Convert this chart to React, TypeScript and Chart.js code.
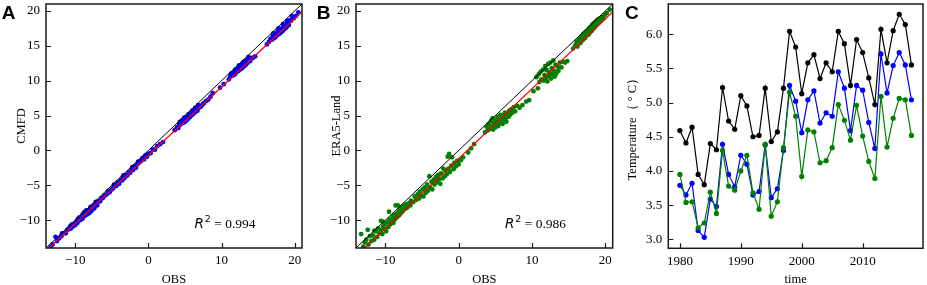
import React, { useEffect, useRef } from "react";
import { Chart, registerables } from "chart.js";

Chart.register(...registerables);

const SERIF = "'Liberation Serif', 'Times New Roman', serif";
const SANS = "'DejaVu Sans', sans-serif";

// ---------- Panels A / B ----------
const SCATTER_MIN = -14;
const SCATTER_MAX = 21;
const SCATTER_X_TICKS = [-10, 0, 10, 20];
const SCATTER_Y_TICKS = [-10, -5, 0, 5, 10, 15, 20];
const IDENTITY_LINE: [number, number][] = [[-14, -14], [21, 21]];
const CMFD_FIT: [number, number][] = [[-14, -14.42], [21, 19.88]];
const ERA5_FIT: [number, number][] = [[-14, -15.2], [21, 19.85]];
const CMFD_R2 = "0.994";
const ERA5_R2 = "0.986";

const CMFD_POINTS: [number, number][] = [
  [-13.4, -13.9], [-13.1, -13.5], [-12.7, -12.4], [-12.5, -13.0], [-12.2, -12.6], [-11.9, -12.3],
  [-11.6, -11.9], [-11.3, -11.9], [-11.1, -11.4], [-10.9, -11.3], [-10.7, -10.9], [-10.6, -11.2],
  [-10.4, -10.6], [-10.3, -10.9], [-10.1, -10.5], [-10.0, -10.7], [-9.8, -10.1], [-9.7, -10.4],
  [-9.5, -9.9], [-9.4, -9.6], [-9.3, -10.0], [-9.1, -9.5], [-9.0, -9.8], [-8.9, -9.3],
  [-8.8, -8.9], [-8.7, -9.4], [-8.6, -9.1], [-8.5, -8.7], [-8.4, -9.2], [-8.3, -8.9],
  [-8.2, -8.6], [-8.1, -9.0], [-8.0, -8.5], [-7.9, -8.4], [-7.8, -8.7], [-7.7, -8.2],
  [-7.6, -8.4], [-7.5, -7.9], [-7.4, -8.3], [-7.3, -7.9], [-7.1, -7.7], [-7.0, -7.9],
  [-6.8, -7.3], [-6.6, -7.3], [-6.4, -6.9], [-6.2, -6.8], [-6.0, -6.5],
  [-11.8, -11.9], [-10.5, -10.7], [-9.6, -9.8], [-9.0, -9.2], [-8.5, -8.6], [-7.9, -8.1], [-7.2, -7.4],
  [-5.7, -6.3], [-5.5, -5.8], [-5.3, -6.0], [-5.0, -5.6], [-4.8, -5.4], [-4.6, -5.0],
  [-4.4, -5.1], [-4.2, -4.6], [-4.0, -4.8], [-3.8, -4.3], [-3.6, -4.3], [-3.5, -3.8],
  [-3.3, -4.0], [-3.1, -3.6], [-2.9, -3.6], [-2.7, -3.2], [-2.5, -3.2], [-2.3, -2.8],
  [-2.1, -2.8], [-1.9, -2.3], [-1.7, -2.5], [-1.5, -2.0], [-1.2, -1.7], [-1.0, -1.5],
  [-0.8, -1.1], [-0.6, -1.3], [-0.4, -0.7], [-0.2, -0.9], [0.0, -0.5], [0.3, -0.4],
  [0.6, 0.1], [0.9, 0.1], [1.2, 0.6], [1.6, 0.9], [2.0, 1.2],
  [-4.7, -4.9], [-3.4, -3.6], [-2.2, -2.4], [-1.4, -1.6],
  [3.6, 2.9], [3.9, 3.3], [4.1, 3.2], [4.2, 3.8], [4.4, 3.7], [4.5, 3.9], [4.6, 4.3],
  [4.7, 3.9], [4.8, 4.2], [4.9, 4.5], [5.0, 4.1], [5.1, 4.6], [5.2, 4.3], [5.3, 4.8],
  [5.4, 4.5], [5.5, 4.7], [5.6, 5.1], [5.7, 4.8], [5.8, 5.0], [5.9, 5.4], [6.0, 5.1],
  [6.1, 5.3], [6.2, 5.6], [6.3, 5.4], [6.5, 5.6], [6.6, 5.9], [6.7, 5.7], [6.9, 6.1],
  [7.0, 6.3], [7.2, 6.3], [7.4, 6.6], [7.6, 6.8], [7.9, 7.1], [8.2, 7.3], [8.5, 7.7],
  [8.8, 8.2], [9.8, 9.0], [10.3, 9.5],
  [4.3, 4.1], [4.9, 4.7], [5.5, 5.2], [6.0, 5.7], [6.4, 6.1], [6.8, 6.5],
  [11.0, 10.2], [11.2, 10.6], [11.4, 10.7], [11.6, 11.1], [11.7, 10.8], [11.8, 11.4],
  [11.9, 11.0], [12.0, 11.6], [12.1, 11.3], [12.2, 11.8], [12.3, 11.4], [12.4, 11.9],
  [12.5, 11.6], [12.6, 12.2], [12.7, 11.7], [12.8, 12.3], [12.9, 11.9], [13.0, 12.5],
  [13.1, 12.1], [13.2, 12.6], [13.3, 12.3], [13.4, 12.9], [13.5, 12.5], [13.6, 12.8],
  [13.8, 13.1], [13.9, 12.8], [14.1, 13.2], [14.3, 13.3], [14.6, 13.5],
  [11.3, 11.0], [11.9, 11.6], [12.4, 12.2], [13.0, 12.7], [13.7, 13.4],
  [16.2, 15.2], [16.5, 15.6], [16.7, 16.0], [16.9, 15.9], [17.0, 16.4], [17.2, 16.1],
  [17.3, 16.6], [17.4, 16.3], [17.5, 16.8], [17.6, 16.5], [17.7, 17.1], [17.8, 16.7],
  [17.9, 17.2], [18.0, 16.8], [18.1, 17.4], [18.2, 17.0], [18.3, 17.5], [18.4, 17.2],
  [18.5, 17.8], [18.6, 17.4], [18.7, 17.9], [18.8, 17.6], [18.9, 18.2], [19.0, 17.8],
  [19.1, 18.3], [19.2, 18.0], [19.3, 18.6], [19.5, 18.6], [19.7, 18.9], [19.9, 19.0],
  [20.2, 19.3], [20.5, 19.8],
  [17.1, 16.8], [17.8, 17.5], [18.4, 18.1], [19.0, 18.6], [19.6, 19.3],
];

const ERA5_POINTS: [number, number][] = [
  [-13.3, -12.0], [-12.4, -11.4], [-11.5, -11.5], [-10.6, -10.1], [-10.4, -10.2], [-9.5, -8.8],
  [-8.6, -7.9], [-8.3, -7.9],
  [-13.0, -13.8], [-12.8, -13.2], [-12.6, -12.8], [-12.3, -13.5], [-12.1, -12.3], [-11.9, -13.0],
  [-11.7, -12.2], [-11.5, -12.8], [-11.3, -11.6], [-11.1, -12.4], [-11.0, -11.2], [-10.8, -11.9],
  [-10.6, -11.4], [-10.4, -12.0], [-10.3, -10.9], [-10.1, -11.3], [-10.0, -10.5], [-9.9, -11.6],
  [-9.7, -10.3], [-9.6, -11.0], [-9.4, -9.9], [-9.3, -10.6], [-9.1, -10.1], [-9.0, -9.5],
  [-8.9, -10.4], [-8.8, -9.3], [-8.7, -9.9], [-8.5, -9.1], [-8.4, -9.6], [-8.2, -8.8],
  [-8.1, -9.3], [-8.0, -8.4], [-7.9, -9.0], [-7.7, -8.1], [-7.6, -8.7], [-7.4, -7.9],
  [-7.3, -8.4], [-7.1, -7.7], [-7.0, -8.2], [-6.8, -7.6], [-6.6, -7.9], [-6.5, -7.2],
  [-6.2, -7.4], [-6.0, -6.6], [-5.8, -7.1], [-5.6, -6.3], [-5.4, -6.9], [-5.3, -5.9],
  [-5.1, -6.5], [-4.9, -5.6], [-4.8, -6.6], [-4.6, -5.3], [-4.5, -6.1], [-4.3, -4.9],
  [-4.2, -5.8], [-4.0, -3.7], [-3.9, -5.3], [-3.7, -4.5], [-3.6, -5.6], [-3.4, -4.2],
  [-3.3, -4.9], [-3.1, -3.8], [-3.0, -4.6], [-2.8, -3.5], [-2.7, -4.2], [-2.5, -4.8],
  [-2.4, -3.3], [-2.2, -4.0], [-2.1, -2.6], [-1.9, -3.7], [-1.8, -2.9], [-1.6, -3.4],
  [-1.5, -0.9], [-1.4, -2.6], [-1.3, -0.5], [-1.2, -3.1], [-1.0, -2.2], [-0.9, -1.0],
  [-0.7, -2.7], [-0.6, -1.8], [-0.4, -2.3], [-0.2, -1.5], [0.0, -2.0], [0.3, -1.4],
  [0.6, -1.0], [1.3, -0.3], [1.7, 0.3], [2.1, 0.9],
  [3.6, 2.6], [3.8, 3.4], [4.0, 2.9], [4.1, 3.8], [4.3, 3.1], [4.4, 4.2], [4.5, 3.4],
  [4.6, 4.6], [4.7, 3.0], [4.8, 3.9], [4.9, 4.4], [5.0, 3.3], [5.1, 4.1], [5.2, 3.7],
  [5.3, 4.8], [5.4, 3.5], [5.5, 4.3], [5.6, 3.9], [5.7, 5.1], [5.8, 4.0], [5.9, 4.6],
  [6.0, 3.8], [6.1, 5.0], [6.2, 4.3], [6.3, 5.4], [6.4, 4.6], [6.5, 4.1], [6.6, 5.2],
  [6.8, 4.8], [6.9, 5.7], [7.0, 5.1], [7.2, 5.9], [7.3, 5.4], [7.5, 6.2], [7.7, 5.6],
  [8.0, 6.4], [8.3, 6.1], [8.7, 6.5], [9.2, 7.0], [9.6, 7.2], [10.2, 8.5], [10.8, 8.9],
  [10.6, 10.5], [10.9, 10.9], [11.0, 9.8], [11.2, 11.3], [11.3, 10.2], [11.5, 11.6],
  [11.6, 10.0], [11.7, 10.8], [11.8, 12.1], [11.9, 10.4], [12.0, 11.5], [12.1, 9.9],
  [12.2, 12.4], [12.3, 10.7], [12.4, 11.2], [12.5, 12.6], [12.6, 10.3], [12.7, 11.8],
  [12.8, 10.9], [12.9, 12.9], [13.0, 11.4], [13.1, 10.6], [13.2, 12.3], [13.3, 11.0],
  [13.5, 12.0], [13.6, 11.4], [13.8, 12.6], [14.0, 11.9], [14.2, 12.7], [14.5, 12.6],
  [14.8, 12.8],
  [15.6, 14.6], [15.9, 15.1], [16.1, 15.6], [16.2, 14.9], [16.4, 16.0], [16.6, 15.4],
  [16.7, 16.3], [16.9, 15.8], [17.0, 16.7], [17.2, 16.1], [17.3, 17.0], [17.4, 16.4],
  [17.6, 17.2], [17.7, 16.6], [17.8, 17.5], [17.9, 16.9], [18.0, 17.7], [18.1, 17.1],
  [18.2, 18.0], [18.3, 17.4], [18.4, 18.2], [18.5, 17.6], [18.6, 18.4], [18.7, 17.9],
  [18.8, 18.6], [18.9, 18.1], [19.0, 18.8], [19.1, 18.3], [19.2, 18.9], [19.4, 18.6],
  [19.5, 19.1], [19.7, 18.9], [19.9, 19.4], [20.2, 19.7], [20.6, 20.2],
];

// ---------- Panel C ----------
const YEARS = [
  1980, 1981, 1982, 1983, 1984, 1985, 1986, 1987, 1988, 1989,
  1990, 1991, 1992, 1993, 1994, 1995, 1996, 1997, 1998, 1999,
  2000, 2001, 2002, 2003, 2004, 2005, 2006, 2007, 2008, 2009,
  2010, 2011, 2012, 2013, 2014, 2015, 2016, 2017, 2018,
];
const OBS_TEMP = [
  4.59, 4.41, 4.64, 3.95, 3.80, 4.40, 4.31, 5.22, 4.73, 4.61,
  5.10, 4.95, 4.50, 4.52, 5.21, 4.43, 4.57, 5.21, 6.04, 5.81,
  5.13, 5.58, 5.70, 5.35, 5.58, 5.45, 6.04, 5.86, 5.25, 5.92,
  5.73, 5.36, 4.97, 6.07, 5.58, 6.05, 6.29, 6.14, 5.55,
];
const CMFD_TEMP = [
  3.79, 3.65, 3.82, 3.13, 3.03, 3.59, 3.48, 4.39, 3.95, 3.77,
  4.23, 4.10, 3.65, 3.70, 4.38, 3.61, 3.74, 4.30, 5.25, 5.02,
  4.56, 5.04, 5.17, 4.70, 4.85, 4.80, 5.45, 5.21, 4.59, 5.25,
  5.18, 4.71, 4.33, 5.71, 5.14, 5.54, 5.73, 5.55, 5.04,
];
const ERA5_TEMP = [
  3.95, 3.54, 3.55, 3.17, 3.24, 3.69, 3.38, 4.30, 3.78, 3.72,
  4.00, 4.23, 3.68, 3.44, 4.39, 3.34, 3.55, 4.34, 5.15, 4.80,
  3.92, 4.60, 4.57, 4.12, 4.15, 4.34, 4.97, 4.74, 4.45, 4.96,
  4.51, 4.14, 3.89, 5.09, 4.35, 4.77, 5.06, 5.04, 4.52,
];
const YEAR_TICKS = [1980, 1990, 2000, 2010];
const TEMP_TICKS = [3.0, 3.5, 4.0, 4.5, 5.0, 5.5, 6.0];
const YEAR_MIN = 1978.1;
const YEAR_MAX = 2019.9;
const TEMP_MIN = 2.87;
const TEMP_MAX = 6.44;

const H = 285;

const fmtSigned = (v: number) => (v < 0 ? "\u2212" + Math.abs(v) : String(v));

const framePlugin = {
  id: "frame",
  afterDraw(chart: any, _args: any, opts: any) {
    const { ctx, chartArea: a } = chart;
    const xs = chart.scales.x;
    const ys = chart.scales.y;
    ctx.save();
    ctx.strokeStyle = "#1a1a1a";
    ctx.lineWidth = 1.2;
    ctx.beginPath();
    xs.ticks.forEach((t: any) => {
      const p = Math.round(xs.getPixelForValue(t.value)) + 0.5;
      ctx.moveTo(p, a.bottom);
      ctx.lineTo(p, a.bottom - 5);
    });
    ys.ticks.forEach((t: any) => {
      const p = Math.round(ys.getPixelForValue(t.value)) + 0.5;
      ctx.moveTo(a.left, p);
      ctx.lineTo(a.left + 5, p);
    });
    ctx.stroke();
    ctx.lineWidth = 1.5;
    ctx.strokeRect(a.left, a.top, a.right - a.left, a.bottom - a.top);

    ctx.fillStyle = "#000";
    ctx.textAlign = "left";
    ctx.textBaseline = "alphabetic";
    if (opts.letter) {
      ctx.font = "bold 19px 'Liberation Sans', Arial, sans-serif";
      ctx.fillText(opts.letter, opts.letterX, 18.5);
    }
    if (opts.r2) {
      const fs = 13.5;
      let x = a.left + 0.58 * (a.right - a.left);
      const yb = a.bottom - 0.084 * (a.bottom - a.top);
      ctx.font = `italic ${fs}px ${SANS}`;
      ctx.fillText("R", x, yb);
      x += ctx.measureText("R").width + 1;
      ctx.font = `${fs * 0.7}px ${SANS}`;
      ctx.fillText("2", x, yb - fs * 0.42);
      x += ctx.measureText("2").width;
      ctx.font = `${fs}px ${SERIF}`;
      ctx.fillText(" = " + opts.r2, x, yb);
    }
    ctx.restore();
  },
};

function noPad(s: any) {
  s.paddingTop = 0;
  s.paddingBottom = 0;
  s.paddingLeft = 0;
  s.paddingRight = 0;
}

function axisBase(extra: any) {
  return {
    type: "linear",
    grid: { display: false, drawTicks: false },
    border: { display: false },
    ...extra,
  };
}

function scatterConfig(
  points: [number, number][],
  fit: [number, number][],
  color: string,
  yTitle: string,
  yTitleOffset: number,
  letter: string,
  letterX: number,
  r2: string,
  padRight: number
) {
  const toXY = (arr: [number, number][]) => arr.map(([x, y]) => ({ x, y }));
  return {
    type: "scatter",
    data: {
      datasets: [
        { data: toXY(IDENTITY_LINE), showLine: true, borderColor: "#000", borderWidth: 1, pointRadius: 0, order: 0 },
        { data: toXY(fit), showLine: true, borderColor: "#ff0000", borderWidth: 1.2, pointRadius: 0, order: 1 },
        { data: toXY(points), backgroundColor: color, borderColor: color, borderWidth: 0, pointRadius: 2.4, order: 2 },
      ],
    },
    options: {
      animation: false,
      responsive: false,
      events: [],
      layout: { padding: { left: 0, right: padRight, top: 2, bottom: 0 } },
      plugins: {
        legend: { display: false },
        tooltip: { enabled: false },
        frame: { letter, letterX, r2 },
      },
      scales: {
        x: axisBase({
          min: SCATTER_MIN,
          max: SCATTER_MAX,
          afterBuildTicks: (s: any) => { s.ticks = SCATTER_X_TICKS.map((v) => ({ value: v })); },
          afterFit: (s: any) => { s.height = 37; noPad(s); },
          ticks: { color: "#000", font: { family: SERIF, size: 13 }, padding: 5, maxRotation: 0, autoSkip: false, callback: (v: number) => fmtSigned(v) },
          title: { display: true, text: "OBS", color: "#000", font: { family: SERIF, size: 12.5 }, padding: { top: 0, bottom: -2 } },
        }),
        y: axisBase({
          min: SCATTER_MIN,
          max: SCATTER_MAX,
          afterBuildTicks: (s: any) => { s.ticks = SCATTER_Y_TICKS.map((v) => ({ value: v })); },
          afterFit: (s: any) => { s.width = 46; noPad(s); },
          ticks: { color: "#000", font: { family: SERIF, size: 13 }, padding: 6, autoSkip: false, callback: (v: number) => fmtSigned(v) },
          title: { display: true, text: yTitle, color: "#000", font: { family: SERIF, size: 12.5 }, padding: { top: yTitleOffset, bottom: 0 } },
        }),
      },
    },
    plugins: [framePlugin],
  };
}

function lineConfig() {
  const series = (vals: number[]) => YEARS.map((yr, i) => ({ x: yr, y: vals[i] }));
  const ds = (vals: number[], color: string, order: number) => ({
    data: series(vals),
    borderColor: color,
    backgroundColor: color,
    borderWidth: 1.2,
    pointRadius: 2.6,
    pointBorderWidth: 0,
    tension: 0,
    order,
  });
  return {
    type: "line",
    data: {
      datasets: [ds(OBS_TEMP, "#000000", 2), ds(CMFD_TEMP, "#0000ff", 1), ds(ERA5_TEMP, "#008000", 0)],
    },
    options: {
      animation: false,
      responsive: false,
      events: [],
      layout: { padding: { left: 0, right: 2, top: 2.7, bottom: 0 } },
      plugins: {
        legend: { display: false },
        tooltip: { enabled: false },
        frame: { letter: "C", letterX: 5 },
      },
      scales: {
        x: axisBase({
          min: YEAR_MIN,
          max: YEAR_MAX,
          afterBuildTicks: (s: any) => { s.ticks = YEAR_TICKS.map((v) => ({ value: v })); },
          afterFit: (s: any) => { s.height = 36.7; noPad(s); },
          ticks: { color: "#000", font: { family: SERIF, size: 13 }, padding: 5, maxRotation: 0, autoSkip: false, callback: (v: number) => String(v) },
          title: { display: true, text: "time", color: "#000", font: { family: SERIF, size: 12.5 }, padding: { top: 0, bottom: -2 } },
        }),
        y: axisBase({
          min: TEMP_MIN,
          max: TEMP_MAX,
          afterBuildTicks: (s: any) => { s.ticks = TEMP_TICKS.map((v) => ({ value: v })); },
          afterFit: (s: any) => { s.width = 48.3; noPad(s); },
          ticks: { color: "#000", font: { family: SERIF, size: 13 }, padding: 6, autoSkip: false, callback: (v: number) => v.toFixed(1) },
          title: { display: true, text: "Temperature（ ° C）", color: "#000", font: { family: SERIF, size: 12.5 }, padding: { top: 5.5, bottom: 0 } },
        }),
      },
    },
    plugins: [framePlugin],
  };
}

function Panel({ left, width, make }: { left: number; width: number; make: () => any }) {
  const ref = useRef<HTMLCanvasElement | null>(null);
  useEffect(() => {
    if (!ref.current) return;
    const chart = new Chart(ref.current, make());
    return () => chart.destroy();
  }, []);
  return (
    <canvas
      ref={ref}
      width={width}
      height={H}
      style={{ position: "absolute", left, top: 0, width, height: H, display: "block" }}
    />
  );
}

export default function App() {
  return (
    <div style={{ position: "fixed", left: 0, top: 0, width: 927, height: H, background: "#fff", overflow: "hidden" }}>
      <Panel
        left={0}
        width={310}
        make={() => scatterConfig(CMFD_POINTS, CMFD_FIT, "#0000ff", "CMFD", 14.2, "A", 1.7, CMFD_R2, 8)}
      />
      <Panel
        left={310}
        width={310}
        make={() => scatterConfig(ERA5_POINTS, ERA5_FIT, "#008000", "ERA5-Land", 19.2, "B", 6.7, ERA5_R2, 7.3)}
      />
      <Panel left={620} width={307} make={lineConfig} />
    </div>
  );
}
